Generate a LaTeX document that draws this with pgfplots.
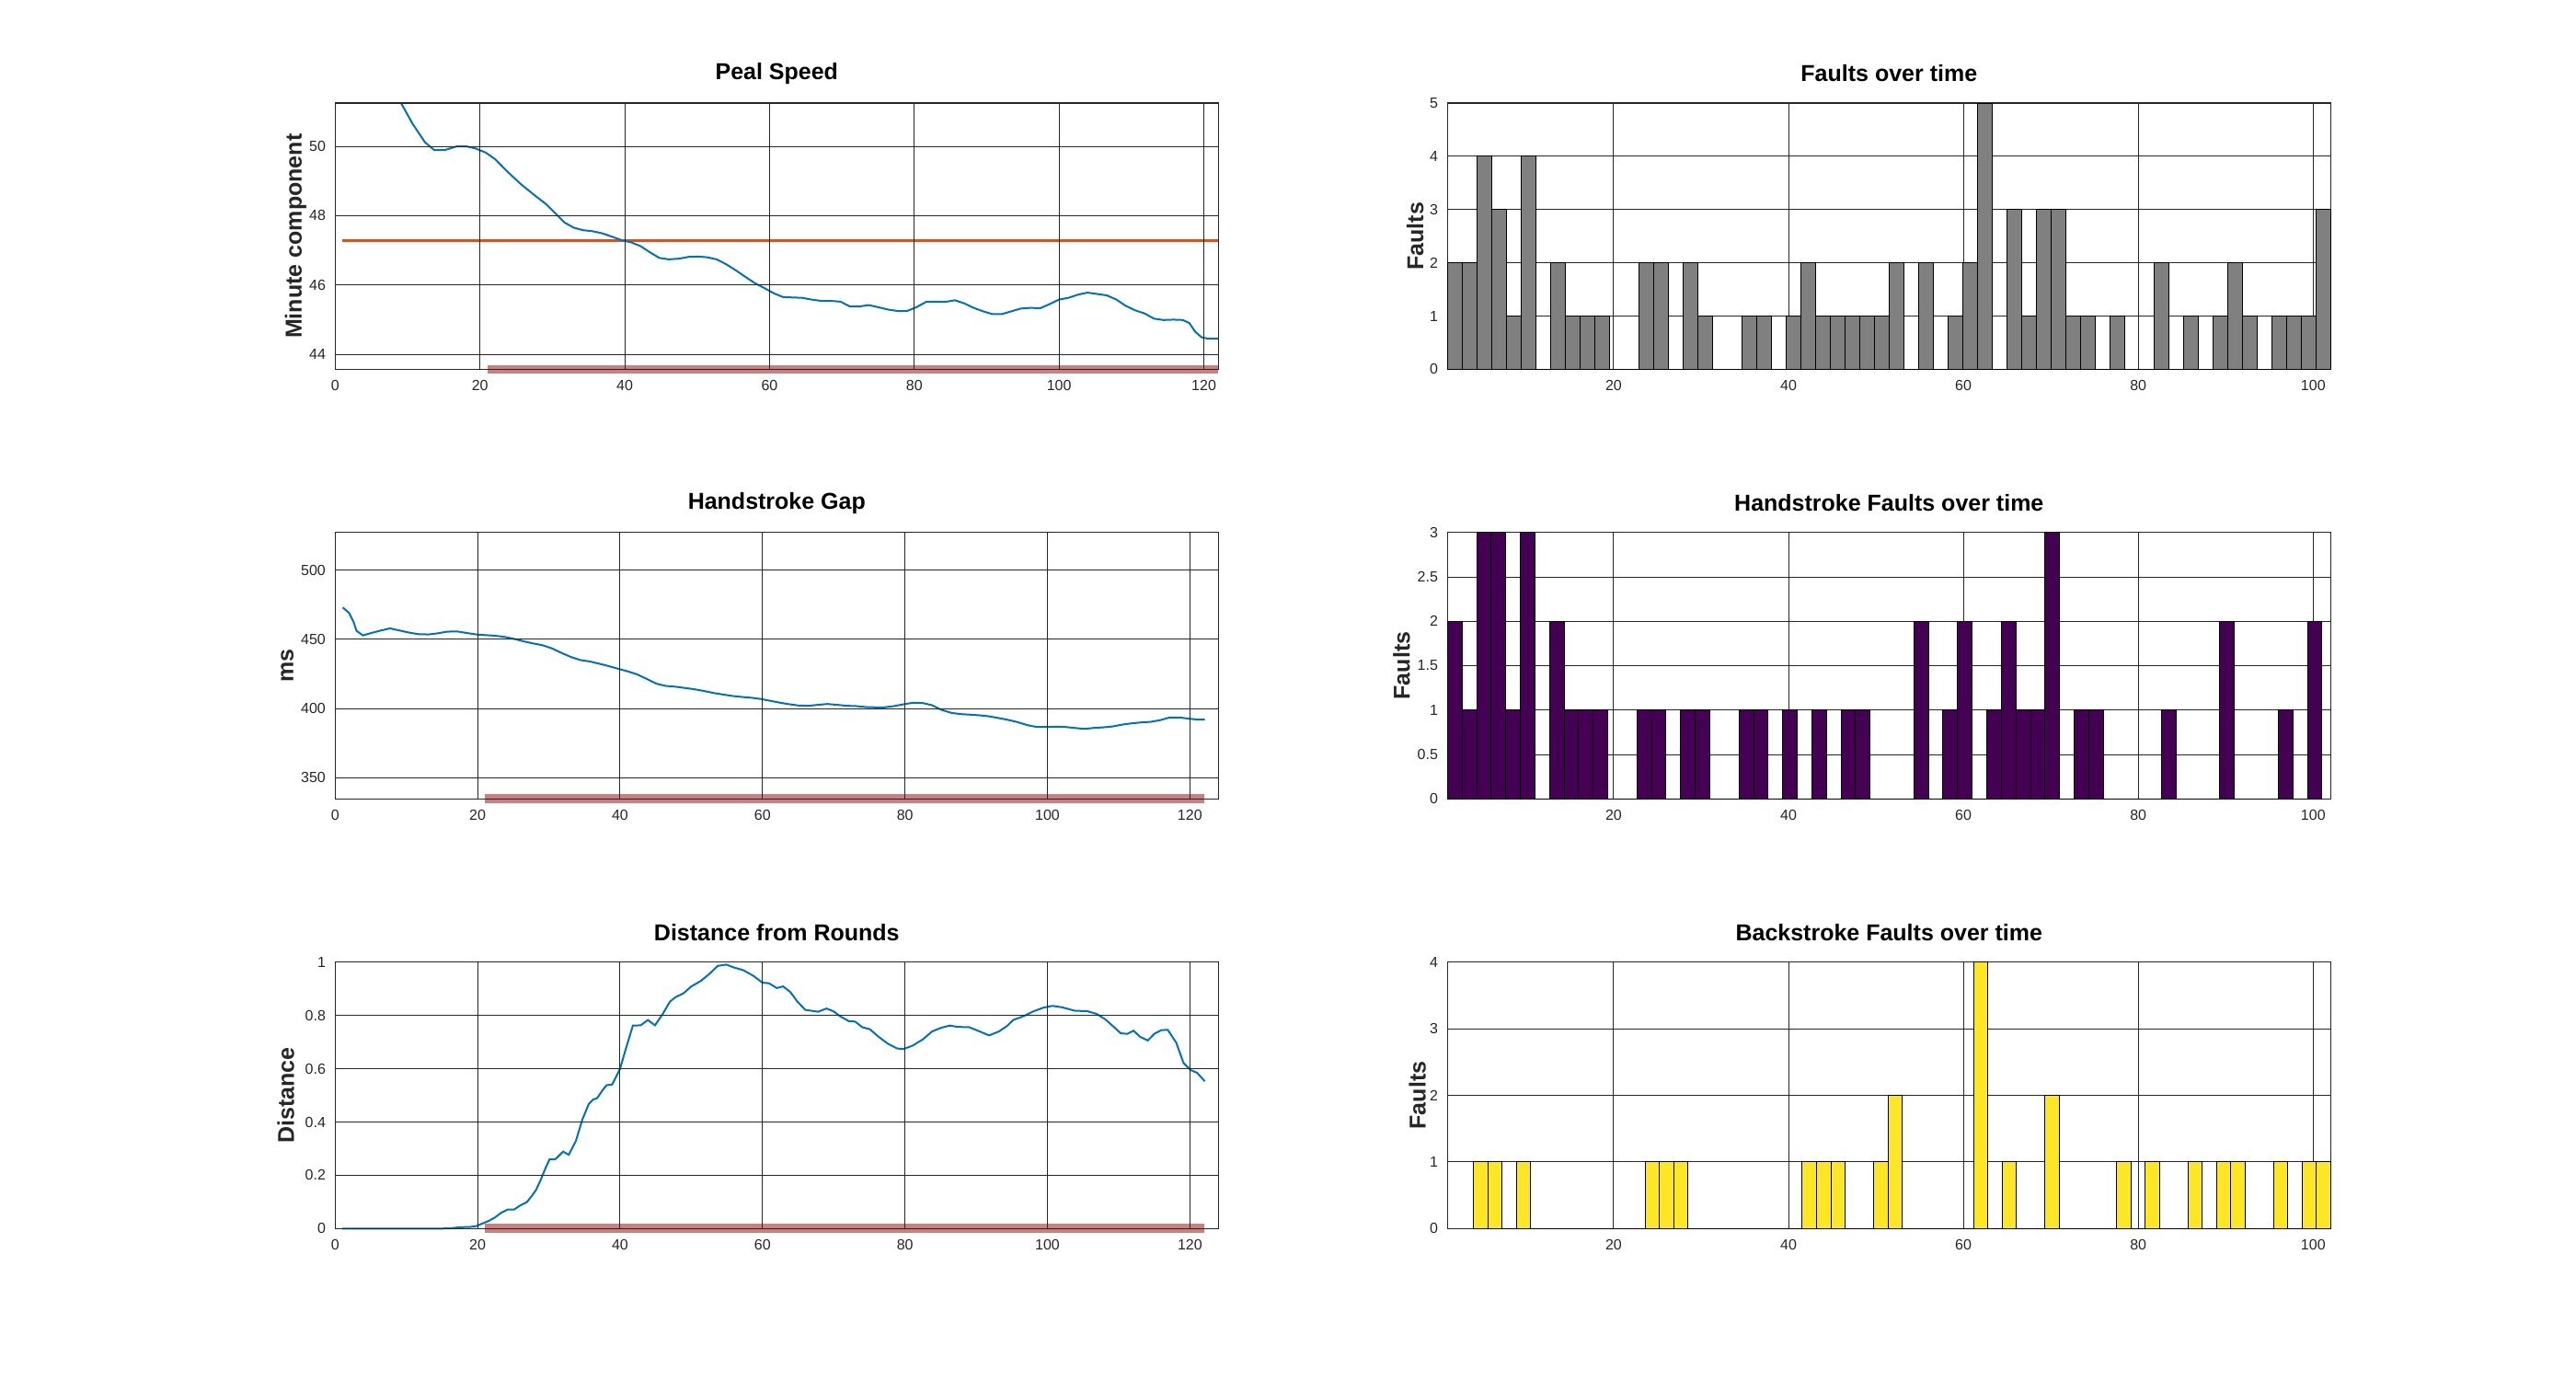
\documentclass[border=0pt]{standalone}
\usepackage{pgfplots}
\pgfplotsset{compat=1.18}
\usepackage{pgfplotstable}
\usepackage{fontspec}
\setmainfont{Liberation Sans}
\definecolor{bluec}{RGB}{0,114,189}
\definecolor{orangec}{RGB}{217,83,25}
\definecolor{pinkc}{RGB}{204,127,127}
\definecolor{grayc}{RGB}{128,128,128}
\definecolor{purplec}{RGB}{68,1,84}
\definecolor{yellowc}{RGB}{253,231,37}
\definecolor{axc}{RGB}{38,38,38}

\pgfplotstableread{
x y
9.1 51.25
10.7 50.65
12.4 50.12
13.7 49.89
15.1 49.89
16.8 50.0
18.1 50.0
19.4 49.94
20.8 49.82
22.1 49.63
23.8 49.27
25.6 48.92
27.3 48.63
29.1 48.34
30.4 48.07
31.7 47.80
33.0 47.65
34.3 47.58
35.6 47.55
36.9 47.49
38.3 47.39
39.6 47.29
40.9 47.23
42.2 47.12
43.5 46.94
44.8 46.78
46.1 46.74
47.5 46.76
48.8 46.81
50.1 46.82
51.4 46.80
52.7 46.74
54.0 46.60
55.3 46.43
56.7 46.23
58.0 46.05
59.3 45.91
60.6 45.76
61.9 45.65
63.2 45.64
64.5 45.63
65.8 45.58
67.2 45.54
68.5 45.54
69.8 45.52
71.1 45.38
72.4 45.38
73.7 45.42
75.0 45.36
76.4 45.29
77.7 45.25
79.0 45.25
80.3 45.36
81.6 45.51
82.9 45.52
84.2 45.51
85.6 45.56
86.9 45.47
88.2 45.34
89.5 45.24
90.8 45.16
92.1 45.16
93.4 45.24
94.7 45.32
96.1 45.34
97.4 45.33
98.7 45.45
100.0 45.58
101.3 45.63
102.6 45.72
103.9 45.78
105.3 45.74
106.6 45.70
107.9 45.58
109.2 45.40
110.5 45.27
111.8 45.18
113.1 45.03
114.4 44.99
115.8 45.00
117.1 44.99
118.0 44.90
118.8 44.65
119.7 44.49
120.6 44.45
122.0 44.45
}\peal

\pgfplotstableread{
x y
1.07 473.1
1.96 469.1
2.6 462.4
3.0 456.2
3.9 452.9
5.1 454.7
6.4 456.4
7.7 458.0
9.1 456.4
10.4 454.9
11.7 453.8
13.1 453.6
14.4 454.4
15.7 455.6
17.1 455.8
18.4 454.7
19.8 453.6
21.1 453.1
22.4 452.7
23.8 451.8
25.1 450.4
26.4 448.7
27.8 447.1
29.1 445.8
30.4 443.6
31.8 440.2
33.1 437.3
34.4 435.1
35.8 434.0
37.1 432.4
38.4 430.7
39.8 428.7
41.1 426.9
42.4 424.7
43.8 421.3
45.1 418.0
46.4 416.4
47.8 415.8
49.1 414.9
50.4 414.0
51.8 412.7
53.1 411.3
54.4 410.2
55.8 409.1
57.1 408.4
58.5 407.8
59.8 406.9
61.1 405.6
62.5 404.2
63.8 403.1
65.1 402.2
66.5 402.0
67.8 402.7
69.1 403.3
70.5 402.7
71.8 402.0
73.1 401.8
74.5 401.1
75.8 400.9
77.1 400.9
78.5 401.8
79.8 403.1
81.1 404.2
82.5 404.0
83.8 402.4
85.1 399.1
86.5 396.9
87.8 396.0
89.1 395.6
90.5 395.1
91.8 394.4
93.2 393.1
94.5 391.8
95.8 390.2
97.2 388.0
98.5 386.7
99.8 386.7
101.2 386.9
102.5 386.7
103.8 386.0
105.2 385.3
106.5 386.0
107.8 386.4
109.2 387.1
110.5 388.4
111.8 389.3
113.2 390.0
114.5 390.4
115.8 391.6
117.2 393.6
118.5 393.6
119.8 392.7
121.2 392.0
122.1 392.0
}\hsgap

\pgfplotstableread{
x y
1.0 0.0
15.0 0.0
16.2 0.001
17.5 0.005
18.9 0.006
19.8 0.009
20.6 0.018
21.5 0.028
22.4 0.041
23.3 0.059
24.2 0.071
25.1 0.071
26.0 0.087
26.9 0.099
27.6 0.122
28.2 0.145
28.8 0.179
29.5 0.225
30.1 0.260
30.9 0.260
32.0 0.289
32.8 0.277
33.8 0.329
34.7 0.409
35.6 0.467
36.2 0.484
36.8 0.490
37.5 0.518
38.1 0.538
38.9 0.541
40.0 0.600
40.8 0.674
41.8 0.762
42.9 0.763
43.9 0.783
44.9 0.763
46.0 0.806
47.0 0.852
47.8 0.869
48.9 0.883
50.0 0.909
51.3 0.929
52.5 0.955
53.7 0.986
54.9 0.991
56.0 0.980
57.3 0.970
58.7 0.949
60.0 0.923
60.9 0.921
62.0 0.903
62.9 0.909
63.9 0.888
64.9 0.852
66.0 0.821
67.8 0.814
69.0 0.826
70.0 0.815
70.9 0.797
72.1 0.779
73.0 0.777
74.0 0.756
75.1 0.748
76.2 0.722
77.6 0.694
78.9 0.676
79.8 0.674
81.1 0.687
82.5 0.710
83.8 0.740
85.1 0.754
86.3 0.762
87.4 0.757
89.0 0.756
90.5 0.740
91.8 0.725
93.2 0.740
94.3 0.760
95.2 0.783
96.7 0.798
98.0 0.815
99.4 0.829
100.7 0.836
102.0 0.831
103.8 0.818
105.6 0.816
106.9 0.806
108.1 0.786
109.2 0.760
110.3 0.733
111.2 0.731
112.1 0.743
113.0 0.720
114.1 0.706
115.0 0.731
116.0 0.745
116.9 0.746
118.1 0.697
119.1 0.622
120.1 0.595
121.0 0.585
122.1 0.553
}\dist

\pgfplotstableread{
b c
0 2
1 2
2 4
3 3
4 1
5 4
6 0
7 2
8 1
9 1
10 1
11 0
12 0
13 2
14 2
15 0
16 2
17 1
18 0
19 0
20 1
21 1
22 0
23 1
24 2
25 1
26 1
27 1
28 1
29 1
30 2
31 0
32 2
33 0
34 1
35 2
36 5
37 0
38 3
39 1
40 3
41 3
42 1
43 1
44 0
45 1
46 0
47 0
48 2
49 0
50 1
51 0
52 1
53 2
54 1
55 0
56 1
57 1
58 1
59 3
60 0
}\faults

\pgfplotstableread{
b c
0 2
1 1
2 3
3 3
4 1
5 3
6 0
7 2
8 1
9 1
10 1
11 0
12 0
13 1
14 1
15 0
16 1
17 1
18 0
19 0
20 1
21 1
22 0
23 1
24 0
25 1
26 0
27 1
28 1
29 0
30 0
31 0
32 2
33 0
34 1
35 2
36 0
37 1
38 2
39 1
40 1
41 3
42 0
43 1
44 1
45 0
46 0
47 0
48 0
49 1
50 0
51 0
52 0
53 2
54 0
55 0
56 0
57 1
58 0
59 2
60 0
}\hsfaults

\pgfplotstableread{
b c
0 1
1 1
2 0
3 1
4 0
5 0
6 0
7 0
8 0
9 0
10 0
11 0
12 1
13 1
14 1
15 0
16 0
17 0
18 0
19 0
20 0
21 0
22 0
23 1
24 1
25 1
26 0
27 0
28 1
29 2
30 0
31 0
32 0
33 0
34 0
35 4
36 0
37 1
38 0
39 0
40 2
41 0
42 0
43 0
44 0
45 1
46 0
47 1
48 0
49 0
50 1
51 0
52 1
53 1
54 0
55 0
56 1
57 0
58 1
59 1
60 0
}\bsfaults

\pgfplotsset{
  myax/.style={
    scale only axis, width=480pt, height=144.75pt,
    anchor=south west,
    grid=major,
    major grid style={axc, line width=0.5pt},
    axis line style={axc, line width=0.6pt},
    major tick length=0pt,
    tick label style={font=\fontsize{8}{9.6}\selectfont, text=axc},
    /pgf/number format/assume math mode=true,
    yticklabel style={inner sep=0pt, anchor=east, xshift=-5pt},
    xticklabel style={inner sep=0pt, anchor=north, yshift=-5.7pt},
    title style={font=\fontsize{12.5}{15}\selectfont\bfseries, at={(axis description cs:0.5,1)}, anchor=center, yshift=10pt},
    ylabel style={font=\fontsize{12.5}{15}\selectfont\bfseries, text=axc, anchor=center},
    clip=false,
  },
  lineax/.style={myax, axis on top, xmin=0, xtick={0,20,40,60,80,100,120}},
  barax/.style={myax, xmin=1, xmax=102, ymin=0, xtick={20,40,60,80,100}},
}

\begin{document}
\begin{tikzpicture}
\path[use as bounding box] (0,0) rectangle (1400pt,750pt);

% Peal Speed
\begin{axis}[lineax, at={(182.15pt,549.25pt)}, xmax=122,
  ymin=43.565, ymax=51.25, ytick={44,46,48,50},
  title={Peal Speed}, ylabel={Minute component},
  ylabel style={at={(axis description cs:-0.0448,0.5)}}]
\addplot[pinkc, line width=4.85pt] coordinates {(21,43.565) (122,43.565)};
\addplot[orangec, line width=1.35pt] coordinates {(1,47.28) (122,47.28)};
\addplot[bluec, line width=1pt] table[x=x,y=y] {\peal};
\end{axis}

% Handstroke Gap
\begin{axis}[lineax, at={(182.15pt,315.85pt)}, xmax=124,
  ymin=334.7, ymax=527.3, ytick={350,400,450,500},
  title={Handstroke Gap}, ylabel={ms},
  ylabel style={at={(axis description cs:-0.0542,0.5)}}]
\addplot[pinkc, line width=4.85pt] coordinates {(21,334.7) (122,334.7)};
\addplot[bluec, line width=1pt] table[x=x,y=y] {\hsgap};
\end{axis}

% Distance from Rounds
\begin{axis}[lineax, at={(182.15pt,82.35pt)}, xmax=124,
  ymin=0, ymax=1, ytick={0,0.2,0.4,0.6,0.8,1},
  title={Distance from Rounds}, ylabel={Distance},
  ylabel style={at={(axis description cs:-0.0558,0.5)}}]
\addplot[pinkc, line width=4.85pt] coordinates {(21,0) (122,0)};
\addplot[bluec, line width=1pt] table[x=x,y=y] {\dist};
\end{axis}

% Faults over time
\begin{axis}[barax, at={(786.65pt,549.25pt)},
  ymax=5, ytick={0,1,2,3,4,5},
  title={Faults over time}, ylabel={Faults},
  ylabel style={at={(axis description cs:-0.0365,0.5)}}]
\addplot[ybar interval, fill=grayc, draw=black, line width=0.45pt]
  table[x expr={1+\thisrow{b}*101/60}, y=c] {\faults};
\end{axis}

% Handstroke Faults over time
\begin{axis}[barax, at={(786.65pt,315.85pt)},
  ymax=3, ytick={0,0.5,1,1.5,2,2.5,3},
  title={Handstroke Faults over time}, ylabel={Faults},
  ylabel style={at={(axis description cs:-0.052,0.5)}}]
\addplot[ybar interval, fill=purplec, draw=black, line width=0.45pt]
  table[x expr={1+\thisrow{b}*100/60}, y=c] {\hsfaults};
\end{axis}

% Backstroke Faults over time
\begin{axis}[barax, at={(786.65pt,82.35pt)},
  ymax=4, ytick={0,1,2,3,4},
  title={Backstroke Faults over time}, ylabel={Faults},
  ylabel style={at={(axis description cs:-0.034,0.5)}}]
\addplot[ybar interval, fill=yellowc, draw=black, line width=0.45pt]
  table[x expr={4+\thisrow{b}*98/60}, y=c] {\bsfaults};
\end{axis}
\end{tikzpicture}
\end{document}
